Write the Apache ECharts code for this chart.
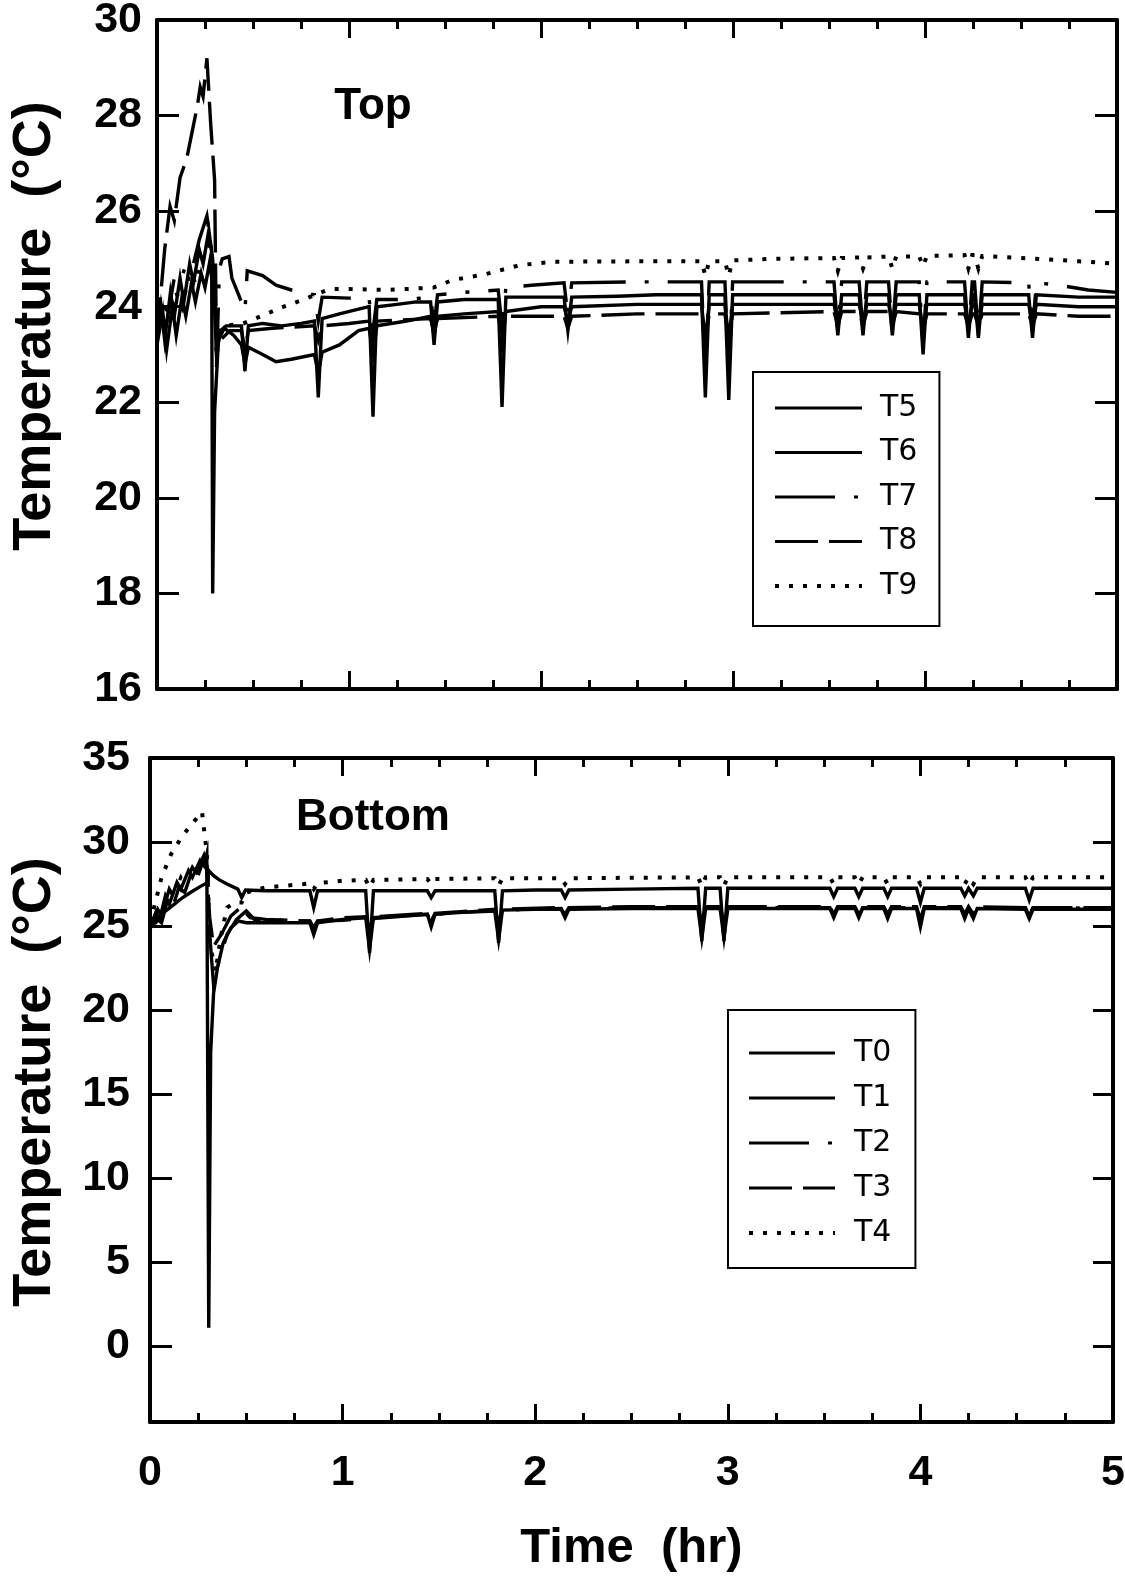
<!DOCTYPE html>
<html>
<head>
<meta charset="utf-8">
<script src="https://cdn.jsdelivr.net/npm/echarts@6/dist/echarts.min.js"></script>
<style>
  html, body { margin: 0; padding: 0; background: #fff; }
  #chart { width: 1125px; height: 1576px; }
</style>
</head>
<body>
<div id="chart"></div>
<script>
// Axis ticks
const timeTicks = [0, 1, 2, 3, 4, 5];
const topTempTicks = [16, 18, 20, 22, 24, 26, 28, 30];
const bottomTempTicks = [0, 5, 10, 15, 20, 25, 30, 35];

// Top sensors: [time (hr), temperature (°C)]
const t5 = [[0,23.2],[0.03,23.9],[0.05,23.1],[0.08,24.0],[0.10,23.4],[0.13,24.2],[0.15,23.8],[0.18,24.5],[0.20,24.1],[0.23,24.7],[0.25,24.4],[0.275,24.95],[0.285,24.6],[0.29,18.0],[0.30,21.8],[0.32,23.3],[0.35,23.55],[0.40,23.4],[0.44,23.2],[0.458,22.8],[0.476,23.15],[0.55,23.0],[0.62,22.85],[0.70,22.9],[0.82,23.0],[0.84,22.6],[0.86,23.05],[0.95,23.2],[1.05,23.5],[1.105,23.55],[1.125,23.0],[1.145,23.6],[1.30,23.7],[1.425,23.8],[1.443,23.4],[1.461,23.8],[1.60,23.85],[1.777,23.9],[1.797,23.2],[1.817,23.9],[2.0,24.0],[2.12,24.0],[2.14,23.7],[2.16,24.0],[2.5,24.05],[2.836,24.05],[2.856,23.3],[2.876,24.05],[2.958,24.05],[2.978,23.3],[2.998,24.05],[3.3,24.05],[3.526,24.05],[3.546,23.7],[3.566,24.05],[3.657,24.05],[3.677,23.7],[3.697,24.05],[3.81,24.05],[3.83,23.7],[3.85,24.05],[3.97,24.05],[3.99,23.5],[4.01,24.05],[4.206,24.05],[4.226,23.6],[4.246,24.05],[4.258,24.05],[4.278,23.6],[4.298,24.05],[4.54,24.05],[4.56,23.6],[4.58,24.05],[4.8,24.0],[5,24.0]];
const t6 = [[0,23.4],[0.02,24.0],[0.04,23.3],[0.07,24.3],[0.09,23.8],[0.12,24.6],[0.14,24.1],[0.17,24.9],[0.19,24.5],[0.22,25.2],[0.24,24.9],[0.27,25.6],[0.29,25.0],[0.31,23.0],[0.33,23.5],[0.36,23.6],[0.40,23.6],[0.44,23.6],[0.458,22.65],[0.476,23.6],[0.55,23.65],[0.65,23.6],[0.75,23.65],[0.82,23.7],[0.84,22.1],[0.86,23.75],[0.95,23.85],[1.05,23.95],[1.105,24.0],[1.125,21.7],[1.145,24.0],[1.25,24.05],[1.35,24.1],[1.425,24.1],[1.443,23.2],[1.461,24.1],[1.6,24.15],[1.777,24.15],[1.797,21.9],[1.817,24.2],[2.0,24.2],[2.12,24.2],[2.14,23.5],[2.16,24.2],[2.4,24.22],[2.6,24.25],[2.836,24.25],[2.856,22.1],[2.876,24.25],[2.958,24.25],[2.978,22.05],[2.998,24.25],[3.2,24.25],[3.526,24.25],[3.546,23.4],[3.566,24.25],[3.657,24.25],[3.677,23.4],[3.697,24.25],[3.81,24.25],[3.83,23.4],[3.85,24.25],[3.97,24.25],[3.99,23.0],[4.01,24.25],[4.206,24.25],[4.226,23.35],[4.246,24.25],[4.258,24.25],[4.278,23.35],[4.298,24.25],[4.54,24.25],[4.56,23.35],[4.58,24.25],[4.8,24.2],[5,24.2]];
const t7 = [[0,23.6],[0.03,24.0],[0.06,23.9],[0.09,24.6],[0.12,24.5],[0.16,25.0],[0.19,24.9],[0.22,25.4],[0.26,25.9],[0.28,25.3],[0.30,24.6],[0.31,22.7],[0.325,24.8],[0.34,25.0],[0.375,25.05],[0.39,24.6],[0.43,24.2],[0.458,23.9],[0.47,24.75],[0.55,24.65],[0.62,24.45],[0.70,24.35],[0.82,24.25],[0.84,23.7],[0.86,24.2],[1.0,24.18],[1.105,24.15],[1.125,23.5],[1.145,24.15],[1.30,24.15],[1.425,24.2],[1.443,23.6],[1.461,24.25],[1.60,24.3],[1.777,24.35],[1.797,23.6],[1.817,24.4],[1.95,24.45],[2.12,24.5],[2.14,23.8],[2.16,24.5],[2.5,24.52],[2.836,24.52],[2.856,22.6],[2.876,24.52],[2.958,24.52],[2.978,22.6],[2.998,24.52],[3.3,24.52],[3.526,24.52],[3.546,23.5],[3.566,24.52],[3.657,24.52],[3.677,23.5],[3.697,24.52],[3.81,24.52],[3.83,23.5],[3.85,24.52],[3.97,24.52],[3.99,23.2],[4.01,24.52],[4.206,24.52],[4.226,23.4],[4.246,24.52],[4.258,24.52],[4.278,23.4],[4.298,24.52],[4.54,24.5],[4.56,23.5],[4.58,24.5],[4.7,24.45],[4.85,24.35],[5,24.3]];
const t8 = [[0,23.3],[0.016,24.1],[0.04,25.2],[0.068,26.1],[0.09,25.8],[0.12,26.7],[0.155,27.1],[0.18,27.6],[0.21,28.2],[0.225,28.6],[0.24,28.4],[0.26,29.2],[0.28,27.8],[0.30,26.65],[0.31,23.0],[0.33,23.3],[0.38,23.5],[0.44,23.5],[0.458,23.1],[0.476,23.5],[0.6,23.55],[0.82,23.6],[0.84,23.3],[0.86,23.6],[1.0,23.65],[1.105,23.7],[1.125,23.3],[1.145,23.7],[1.425,23.75],[1.443,23.45],[1.461,23.75],[1.777,23.8],[1.797,23.4],[1.817,23.8],[2.12,23.8],[2.14,23.55],[2.16,23.8],[2.5,23.85],[2.836,23.85],[2.856,23.3],[2.876,23.85],[2.958,23.85],[2.978,23.3],[2.998,23.85],[3.526,23.9],[3.546,23.6],[3.566,23.9],[3.657,23.9],[3.677,23.6],[3.697,23.9],[3.81,23.9],[3.83,23.6],[3.85,23.9],[3.97,23.85],[3.99,23.5],[4.01,23.85],[4.206,23.85],[4.226,23.6],[4.246,23.85],[4.258,23.85],[4.278,23.6],[4.298,23.85],[4.54,23.85],[4.56,23.6],[4.58,23.85],[4.8,23.8],[5,23.8]];
const t9 = [[0,23.5],[0.03,23.9],[0.06,23.6],[0.10,24.3],[0.13,24.0],[0.17,24.7],[0.20,24.5],[0.24,25.0],[0.27,25.3],[0.29,24.9],[0.31,23.4],[0.35,23.6],[0.45,23.65],[0.57,23.85],[0.66,24.0],[0.73,24.1],[0.90,24.37],[1.0,24.37],[1.2,24.35],[1.44,24.4],[1.54,24.56],[1.70,24.67],[1.89,24.87],[2.06,24.94],[2.5,24.95],[2.836,24.95],[2.856,24.65],[2.876,24.95],[2.958,24.95],[2.978,24.65],[2.998,24.97],[3.2,25.0],[3.526,25.02],[3.546,24.75],[3.566,25.02],[3.657,25.03],[3.677,24.8],[3.697,25.03],[3.81,25.05],[3.83,24.8],[3.85,25.05],[3.97,25.05],[3.99,24.85],[4.01,25.06],[4.206,25.08],[4.226,24.8],[4.246,25.08],[4.258,25.08],[4.278,24.8],[4.298,25.06],[4.6,25.0],[4.8,24.95],[5,24.9]];

// Bottom sensors: [time (hr), temperature (°C)]
const t0 = [[0,25.0],[0.03,25.2],[0.07,25.8],[0.12,26.25],[0.17,26.7],[0.21,27.0],[0.26,27.35],[0.30,27.6],[0.305,28.3],[0.33,28.0],[0.36,27.75],[0.40,27.5],[0.456,27.2],[0.476,26.7],[0.496,27.15],[0.6,27.1],[0.83,27.1],[0.85,26.1],[0.87,27.1],[1.0,27.1],[1.12,27.1],[1.14,23.4],[1.16,27.1],[1.3,27.1],[1.44,27.1],[1.46,26.7],[1.48,27.1],[1.79,27.1],[1.81,24.0],[1.83,27.1],[2.0,27.15],[2.135,27.15],[2.155,26.7],[2.175,27.15],[2.5,27.2],[2.845,27.25],[2.865,24.1],[2.885,27.25],[2.96,27.25],[2.98,24.1],[3.0,27.25],[3.3,27.25],[3.53,27.25],[3.55,26.75],[3.57,27.25],[3.66,27.25],[3.68,26.75],[3.70,27.25],[3.81,27.25],[3.83,26.75],[3.85,27.25],[3.98,27.25],[4.0,26.4],[4.02,27.25],[4.21,27.25],[4.23,26.8],[4.25,27.25],[4.255,27.25],[4.275,26.8],[4.295,27.25],[4.545,27.25],[4.565,26.55],[4.585,27.25],[4.8,27.25],[5,27.25]];
const t1 = [[0,24.8],[0.03,25.8],[0.05,25.4],[0.08,26.8],[0.10,26.3],[0.14,27.6],[0.16,27.2],[0.20,28.3],[0.22,27.9],[0.26,28.9],[0.28,28.6],[0.295,29.3],[0.305,1.1],[0.315,17.5],[0.33,21.0],[0.35,22.5],[0.38,24.0],[0.42,24.9],[0.46,25.3],[0.5,25.2],[0.6,25.2],[0.83,25.2],[0.85,24.5],[0.87,25.2],[1.0,25.4],[1.12,25.5],[1.14,23.6],[1.16,25.5],[1.3,25.6],[1.44,25.7],[1.46,24.95],[1.48,25.7],[1.6,25.8],[1.79,25.9],[1.81,24.2],[1.83,25.95],[2.0,26.0],[2.135,26.0],[2.155,25.5],[2.175,26.0],[2.5,26.05],[2.845,26.05],[2.865,24.3],[2.885,26.05],[2.96,26.05],[2.98,24.3],[3.0,26.05],[3.53,26.05],[3.55,25.5],[3.57,26.05],[3.66,26.05],[3.68,25.5],[3.70,26.05],[3.81,26.05],[3.83,25.45],[3.85,26.05],[3.98,26.05],[4.0,24.95],[4.02,26.05],[4.21,26.05],[4.23,25.45],[4.25,26.05],[4.255,26.05],[4.275,25.45],[4.295,26.05],[4.545,26.0],[4.565,25.45],[4.585,26.0],[4.8,26.0],[5,26.0]];
const t2 = [[0,25.0],[0.04,26.0],[0.06,25.6],[0.10,27.2],[0.12,26.8],[0.16,27.9],[0.18,27.5],[0.22,28.5],[0.24,28.2],[0.28,29.2],[0.30,28.4],[0.31,24.5],[0.33,21.5],[0.36,23.0],[0.40,24.5],[0.45,25.4],[0.50,25.9],[0.55,25.3],[0.60,25.6],[0.70,25.3],[0.83,25.3],[0.85,24.8],[0.87,25.3],[1.0,25.35],[1.12,25.45],[1.14,24.6],[1.16,25.45],[1.44,25.7],[1.46,25.2],[1.48,25.7],[1.79,25.95],[1.81,25.0],[1.83,25.95],[2.135,26.05],[2.155,25.6],[2.175,26.05],[2.5,26.1],[2.845,26.1],[2.865,25.0],[2.885,26.1],[2.96,26.1],[2.98,25.0],[3.0,26.1],[3.53,26.1],[3.55,25.6],[3.57,26.1],[3.66,26.1],[3.68,25.6],[3.70,26.1],[3.81,26.1],[3.83,25.6],[3.85,26.1],[3.98,26.1],[4.0,25.3],[4.02,26.1],[4.21,26.1],[4.23,25.6],[4.25,26.1],[4.255,26.1],[4.275,25.6],[4.295,26.1],[4.545,26.1],[4.565,25.6],[4.585,26.1],[5,26.05]];
const t3 = [[0,24.9],[0.03,25.5],[0.06,25.2],[0.09,26.5],[0.12,26.2],[0.15,27.3],[0.18,27.0],[0.21,28.0],[0.24,27.7],[0.27,28.7],[0.29,29.0],[0.31,25.5],[0.33,23.8],[0.37,24.5],[0.42,25.6],[0.47,26.1],[0.52,25.5],[0.6,25.4],[0.83,25.3],[0.85,24.9],[0.87,25.3],[1.0,25.5],[1.12,25.55],[1.14,24.8],[1.16,25.55],[1.44,25.75],[1.46,25.3],[1.48,25.75],[1.79,26.0],[1.81,25.2],[1.83,26.0],[2.135,26.1],[2.155,25.7],[2.175,26.1],[2.5,26.15],[2.845,26.15],[2.865,25.2],[2.885,26.15],[2.96,26.15],[2.98,25.2],[3.0,26.15],[3.53,26.15],[3.55,25.7],[3.57,26.15],[3.66,26.15],[3.68,25.7],[3.70,26.15],[3.81,26.15],[3.83,25.7],[3.85,26.15],[3.98,26.15],[4.0,25.4],[4.02,26.15],[4.21,26.15],[4.23,25.7],[4.25,26.15],[4.255,26.15],[4.275,25.7],[4.295,26.15],[4.545,26.1],[4.565,25.7],[4.585,26.1],[5,26.1]];
const t4 = [[0,25.2],[0.03,26.5],[0.06,27.9],[0.11,29.3],[0.17,30.4],[0.22,31.1],[0.27,31.8],[0.285,30.3],[0.295,29.4],[0.31,24.0],[0.34,22.3],[0.37,24.5],[0.40,26.1],[0.44,26.4],[0.476,26.4],[0.5,27.0],[0.6,27.3],[0.8,27.5],[0.83,27.55],[0.85,27.2],[0.87,27.55],[1.0,27.7],[1.12,27.75],[1.14,27.3],[1.16,27.75],[1.44,27.8],[1.46,27.5],[1.48,27.8],[1.79,27.85],[1.81,27.4],[1.83,27.85],[2.135,27.85],[2.155,27.5],[2.175,27.85],[2.845,27.9],[2.865,27.4],[2.885,27.9],[2.96,27.9],[2.98,27.4],[3.0,27.9],[3.53,27.9],[3.55,27.5],[3.57,27.9],[3.66,27.9],[3.68,27.5],[3.70,27.9],[3.81,27.9],[3.83,27.5],[3.85,27.9],[3.98,27.9],[4.0,27.5],[4.02,27.9],[4.21,27.9],[4.23,27.5],[4.25,27.9],[4.255,27.9],[4.275,27.5],[4.295,27.9],[4.545,27.9],[4.565,27.5],[4.585,27.9],[5,27.9]];

const FONT = 'Liberation Sans, Arial, sans-serif';
const INK = '#000';

// dash patterns per line style
const STYLES = {
  solid: 'solid',
  dashDot: [60, 19, 4, 19],
  dash: [43, 11],
  dot: [4, 10]
};

function lineSeries(name, data, dash, axisIdx) {
  return {
    name: name,
    type: 'line',
    data: data,
    xAxisIndex: axisIdx,
    yAxisIndex: axisIdx,
    symbol: 'none',
    showSymbol: false,
    animation: false,
    lineStyle: { color: INK, width: dash === STYLES.dot ? 4 : 3.4, type: dash, cap: 'butt', join: 'miter' },
    itemStyle: { color: INK },
    emphasis: { disabled: true }
  };
}

function frameAxis(kind, gridIndex, position, extra) {
  const base = {
    type: 'value',
    gridIndex: gridIndex,
    position: position,
    axisLine: { show: true, onZero: false, lineStyle: { color: INK, width: 4 } },
    axisTick: { show: true, inside: true, length: kind === 'x' ? 18 : 22, lineStyle: { color: INK, width: 3 } },
    splitLine: { show: false },
    axisLabel: { show: false }
  };
  return Object.assign(base, extra);
}

const xCommon = { min: timeTicks[0], max: timeTicks[timeTicks.length - 1], interval: 1,
  minorTick: { show: true, splitNumber: 4, length: 9, lineStyle: { color: INK, width: 3 } } };
const yTop = { min: topTempTicks[0], max: topTempTicks[topTempTicks.length - 1], interval: 2 };
const yBottom = { min: -4.5, max: bottomTempTicks[bottomTempTicks.length - 1] };

const tickLabel = { show: true, color: INK, fontFamily: FONT, fontWeight: 'bold', fontSize: 43 };

const legendCommon = {
  orient: 'vertical',
  itemHeight: 14,
  backgroundColor: '#fff', borderColor: INK, borderWidth: 2,
  selectedMode: false,
  itemStyle: { opacity: 0 },
  lineStyle: { width: 3.2 },
  textStyle: { color: INK, fontFamily: 'DejaVu Sans, sans-serif', fontSize: 30 }
};

function legendItems(names, dotted) {
  return names.map(function (n) {
    return n === dotted ? { name: n, lineStyle: { width: 4 } } : { name: n };
  });
}

const chart = echarts.init(document.getElementById('chart'), null, { renderer: 'canvas' });

chart.setOption({
  backgroundColor: '#fff',
  animation: false,
  grid: [
    { left: 157, top: 20, width: 960, height: 669, outerBoundsMode: 'none' },
    { left: 150, top: 758, width: 963, height: 664, outerBoundsMode: 'none' }
  ],
  xAxis: [
    frameAxis('x', 0, 'bottom', Object.assign({}, xCommon)),
    frameAxis('x', 0, 'top', Object.assign({}, xCommon)),
    frameAxis('x', 1, 'bottom', Object.assign({}, xCommon, {
      axisLabel: Object.assign({}, tickLabel, { margin: 30 }),
      name: 'Time  (hr)', nameLocation: 'middle', nameGap: 102,
      nameTextStyle: { color: INK, fontFamily: FONT, fontWeight: 'bold', fontSize: 49 }
    })),
    frameAxis('x', 1, 'top', Object.assign({}, xCommon))
  ],
  yAxis: [
    frameAxis('y', 0, 'left', Object.assign({}, yTop, {
      axisLabel: Object.assign({}, tickLabel, { margin: 15 })
    })),
    frameAxis('y', 0, 'right', Object.assign({}, yTop)),
    frameAxis('y', 1, 'left', Object.assign({}, yBottom, {
      axisLabel: Object.assign({}, tickLabel, { margin: 20, customValues: bottomTempTicks }),
      axisTick: { show: true, inside: true, length: 22, lineStyle: { color: INK, width: 3 }, customValues: bottomTempTicks }
    })),
    frameAxis('y', 1, 'right', Object.assign({}, yBottom, {
      axisTick: { show: true, inside: true, length: 20, lineStyle: { color: INK, width: 3 }, customValues: bottomTempTicks }
    }))
  ],
  legend: [
    Object.assign({}, legendCommon, {
      data: legendItems(['T5', 'T6', 'T7', 'T8', 'T9'], 'T9'),
      left: 753, top: 372,
      padding: [21, 22, 25, 20],
      itemWidth: 87, itemGap: 14.5,
      textStyle: Object.assign({}, legendCommon.textStyle, { padding: [0, 0, 0, 13] })
    }),
    Object.assign({}, legendCommon, {
      data: legendItems(['T0', 'T1', 'T2', 'T3', 'T4'], 'T4'),
      left: 728, top: 1010,
      padding: [28, 24, 20, 19],
      itemWidth: 86, itemGap: 15,
      textStyle: Object.assign({}, legendCommon.textStyle, { padding: [0, 0, 0, 14] })
    })
  ],
  graphic: [
    { type: 'text', x: 373, y: 107, style: { text: 'Top', fill: INK, font: 'bold 44px ' + FONT, textAlign: 'center', textVerticalAlign: 'middle' } },
    { type: 'text', x: 373, y: 818, style: { text: 'Bottom', fill: INK, font: 'bold 44px ' + FONT, textAlign: 'center', textVerticalAlign: 'middle' } },
    { type: 'text', x: 35, y: 326, rotation: Math.PI / 2, style: { text: 'Temperature  (°C)', fill: INK, font: 'bold 54px ' + FONT, textAlign: 'center', textVerticalAlign: 'middle' } },
    { type: 'text', x: 35, y: 1082, rotation: Math.PI / 2, style: { text: 'Temperature  (°C)', fill: INK, font: 'bold 54px ' + FONT, textAlign: 'center', textVerticalAlign: 'middle' } }
  ],
  series: [
    lineSeries('T5', t5, STYLES.solid, 0),
    lineSeries('T6', t6, STYLES.solid, 0),
    lineSeries('T7', t7, STYLES.dashDot, 0),
    lineSeries('T8', t8, STYLES.dash, 0),
    lineSeries('T9', t9, STYLES.dot, 0),
    lineSeries('T0', t0, STYLES.solid, 2),
    lineSeries('T1', t1, STYLES.solid, 2),
    lineSeries('T2', t2, STYLES.dashDot, 2),
    lineSeries('T3', t3, STYLES.dash, 2),
    lineSeries('T4', t4, STYLES.dot, 2)
  ]
});
</script>
</body>
</html>
